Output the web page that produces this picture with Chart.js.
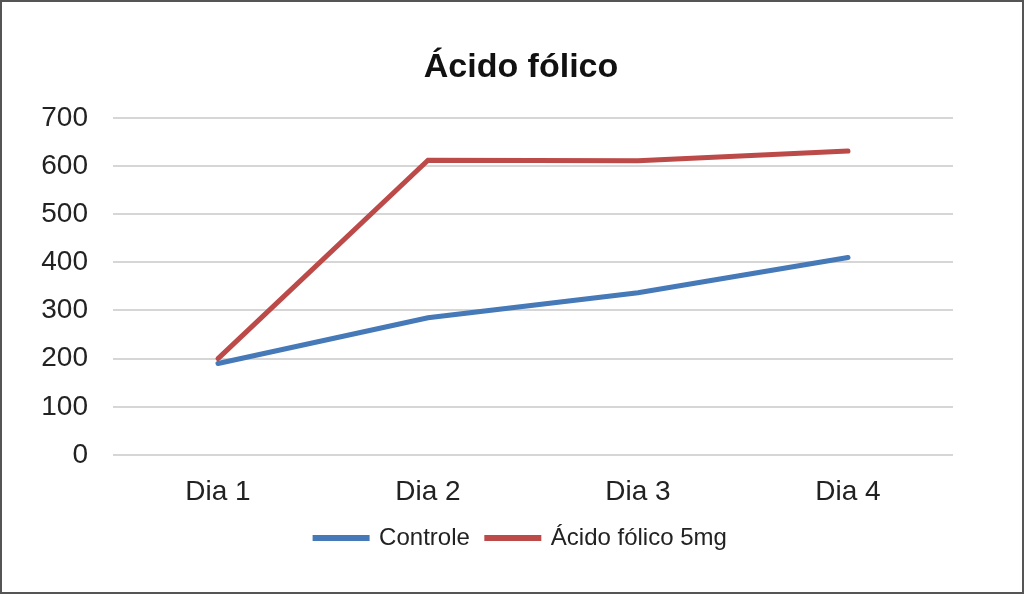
<!DOCTYPE html>
<html>
<head>
<meta charset="utf-8">
<script src="https://cdn.jsdelivr.net/npm/chart.js@4/dist/chart.umd.min.js"></script>
<style>
  html, body { margin: 0; padding: 0; background: #fff; }
  .frame { width: 1024px; height: 594px; box-sizing: border-box; border: 2px solid #555; position: relative; }
  .frame canvas { display: block; }
</style>
</head>
<body>
<div class="frame"><canvas id="chart" width="1020" height="590"></canvas></div>
<script>
const days = ['Dia 1', 'Dia 2', 'Dia 3', 'Dia 4'];
const controle = [190, 285, 337, 410];
const acidoFolico = [200, 612, 611, 631];
const yTicks = [0, 100, 200, 300, 400, 500, 600, 700];

const FONT = "'Liberation Sans', Arial, sans-serif";
const BLUE = '#4679b8';
const RED = '#bc4a48';

new Chart(document.getElementById('chart'), {
  type: 'line',
  data: {
    labels: days,
    datasets: [
      { label: 'Controle', data: controle, borderColor: BLUE, backgroundColor: BLUE, borderWidth: 5, borderCapStyle: 'round', pointRadius: 0, tension: 0 },
      { label: 'Ácido fólico 5mg', data: acidoFolico, borderColor: RED, backgroundColor: RED, borderWidth: 5, borderCapStyle: 'round', pointRadius: 0, tension: 0 }
    ]
  },
  options: {
    responsive: false,
    animation: false,
    layout: { padding: { top: 45, left: 36, right: 18, bottom: 32 } },
    plugins: {
      tooltip: { enabled: false },
      title: {
        display: true,
        text: 'Ácido fólico',
        color: '#111',
        font: { family: FONT, size: 34, weight: 'bold' },
        padding: { top: 0, bottom: 30 }
      },
      legend: {
        position: 'bottom',
        labels: {
          color: '#222',
          font: { family: FONT, size: 24 },
          boxWidth: 52,
          boxHeight: 1,
          padding: 17
        }
      }
    },
    scales: {
      x: {
        offset: true,
        afterFit: s => { s.height = 54; },
        grid: { display: false, drawTicks: false },
        border: { display: false },
        ticks: { color: '#222', font: { family: FONT, size: 28 }, padding: 20 }
      },
      y: {
        min: 0,
        max: 700,
        afterFit: s => { s.width = 75; },
        afterBuildTicks: axis => { axis.ticks = yTicks.map(v => ({ value: v })); },
        grid: { color: '#d6d6d6', lineWidth: 2, drawTicks: false },
        border: { display: false },
        ticks: { color: '#222', font: { family: FONT, size: 28 }, padding: 25 }
      },
      // empty spacer on the right so title and legend sit where the original has them
      spacer: {
        type: 'linear',
        position: 'right',
        afterFit: s => { s.width = 51; },
        grid: { display: false, drawTicks: false },
        border: { display: false },
        ticks: { display: false }
      }
    }
  }
});
</script>
</body>
</html>
